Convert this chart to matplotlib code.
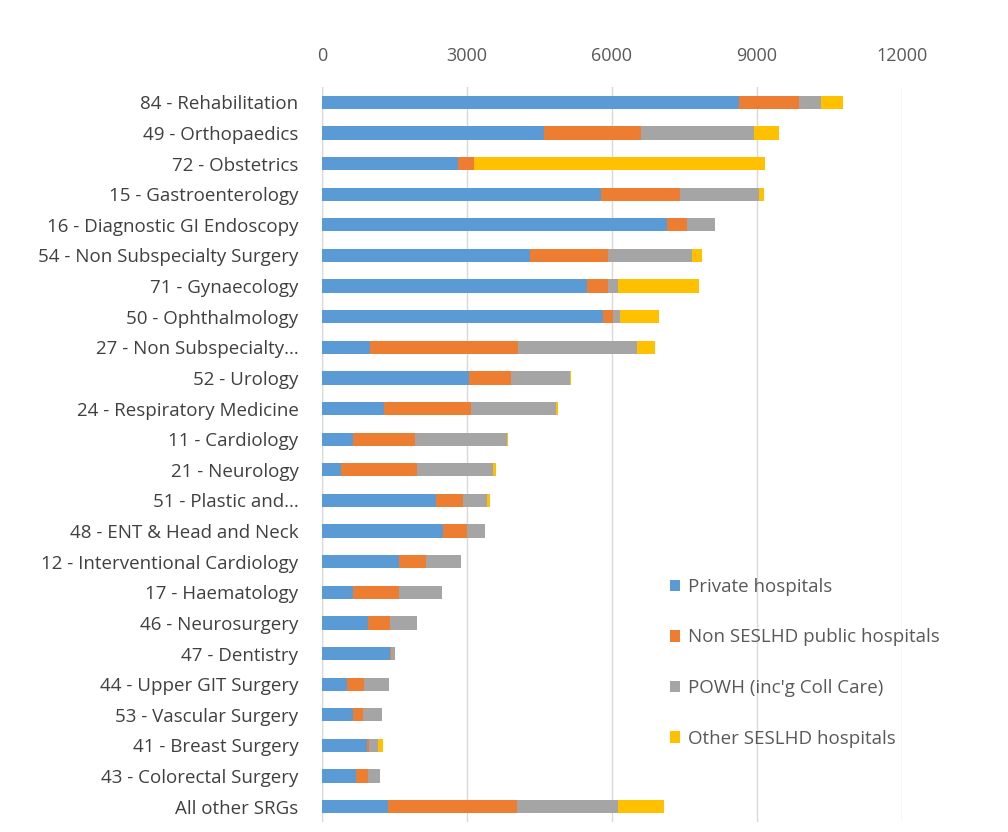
import matplotlib.pyplot as plt
import numpy as np

plt.rcParams['font.family'] = ['Open Sans', 'DejaVu Sans']

categories = [
    "84 - Rehabilitation", "49 - Orthopaedics", "72 - Obstetrics",
    "15 - Gastroenterology", "16 - Diagnostic GI Endoscopy",
    "54 - Non Subspecialty Surgery", "71 - Gynaecology", "50 - Ophthalmology",
    "27 - Non Subspecialty...", "52 - Urology", "24 - Respiratory Medicine",
    "11 - Cardiology", "21 - Neurology", "51 - Plastic and...",
    "48 - ENT & Head and Neck", "12 - Interventional Cardiology",
    "17 - Haematology", "46 - Neurosurgery", "47 - Dentistry",
    "44 - Upper GIT Surgery", "53 - Vascular Surgery", "41 - Breast Surgery",
    "43 - Colorectal Surgery", "All other SRGs",
]

private = [8620, 4600, 2820, 5770, 7130, 4310, 5490, 5810, 1000, 3040, 1280,
           640, 390, 2350, 2500, 1600, 640, 960, 1400, 520, 640, 930, 710, 1360]
non_seslhd = [1250, 1990, 320, 1640, 430, 1600, 430, 210, 3060, 880, 1800,
              1290, 1570, 570, 500, 560, 950, 440, 20, 340, 210, 40, 240, 2670]
powh = [460, 2350, 0, 1640, 570, 1750, 210, 140, 2460, 1210, 1760,
        1890, 1570, 500, 380, 710, 890, 560, 100, 520, 390, 180, 250, 2100]
other_seslhd = [450, 510, 6020, 90, 0, 210, 1670, 820, 360, 30, 40,
                20, 70, 50, 0, 0, 0, 0, 0, 0, 0, 110, 0, 950]

series = [
    ("Private hospitals", private, "#5B9BD5"),
    ("Non SESLHD public hospitals", non_seslhd, "#ED7D31"),
    ("POWH (inc'g Coll Care)", powh, "#A5A5A5"),
    ("Other SESLHD hospitals", other_seslhd, "#FFC000"),
]

fig = plt.figure(figsize=(10.08, 8.32), dpi=100)
ax = fig.add_axes([322 / 1008, 1 - 822 / 832, (902 - 322) / 1008, (822 - 87) / 832])

y = np.arange(len(categories))
left = np.zeros(len(categories))
for name, vals, color in series:
    vals = np.array(vals, dtype=float)
    ax.barh(y, vals, left=left, height=0.43, color=color, label=name, zorder=3)
    left += vals

ax.set_ylim(len(categories) - 0.5, -0.5)
ax.set_yticks(y)
ax.set_yticklabels(categories, fontsize=13.5, color="#404040")
ax.set_xlim(0, 12000)
ax.set_xticks([0, 3000, 6000, 9000, 12000])
ax.xaxis.tick_top()
ax.tick_params(axis="x", labelsize=13, colors="#595959", length=0, pad=16)
ax.tick_params(axis="y", length=0, pad=17)
ax.grid(axis="x", color="#D9D9D9", linewidth=1, zorder=0)
for s in ax.spines.values():
    s.set_visible(False)
ax.axvline(0, color="#D9D9D9", linewidth=1, zorder=1)

leg = ax.legend(loc="upper left", bbox_to_anchor=(653 / 1008, 1 - 561 / 832),
                bbox_transform=fig.transFigure, frameon=False, fontsize=13.5,
                handlelength=0.55, handleheight=0.55, handletextpad=0.42,
                labelspacing=1.74, facecolor="white")
for t in leg.get_texts():
    t.set_color("#595959")

fig.savefig("out.png", dpi=100)
